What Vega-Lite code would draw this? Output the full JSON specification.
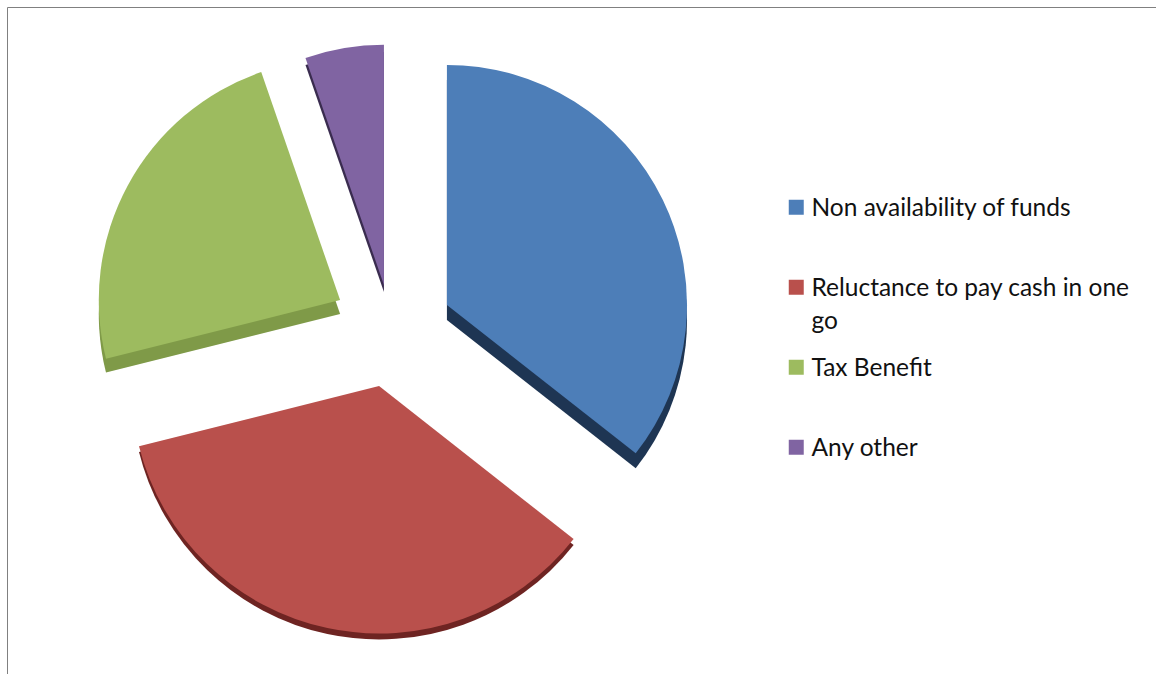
{
  "$schema": "https://vega.github.io/schema/vega-lite/v6.json",
  "width": 1149,
  "height": 667,
  "autosize": "none",
  "padding": {"left": 7, "top": 7, "right": 0, "bottom": 0},
  "background": "white",
  "view": {"stroke": "#808080", "strokeWidth": 1},
  "data": {"values": [
    {"reason": "Non availability of funds", "share": 35.6, "rank": 1, "reach": 0.98, "pull_x": 26.5, "pull_y": 10.2, "base_y": 4.1},
    {"reason": "Reluctance to pay cash in one go", "share": 35.5, "rank": 2, "reach": 1.01, "pull_x": -1.2, "pull_y": -22.9, "base_y": -25.3},
    {"reason": "Tax Benefit", "share": 23.6, "rank": 3, "reach": 0.985, "pull_x": -17.1, "pull_y": 12.2, "base_y": 6.5},
    {"reason": "Any other", "share": 5.3, "rank": 4, "reach": 0.98, "pull_x": 0.8, "pull_y": 18.4, "base_y": 15.5}
  ]},
  "transform": [
    {"stack": "share", "as": ["share_from", "share_to"], "sort": [{"field": "rank", "order": "ascending"}]}
  ],
  "encoding": {
    "theta": {"field": "share_from", "type": "quantitative", "stack": null, "scale": {"domain": [0, 100], "range": [0, 6.2832]}},
    "theta2": {"field": "share_to"},
    "radius": {"field": "reach", "type": "quantitative", "scale": {"type": "linear", "domain": [0, 1], "range": [0, 245]}},
    "x": {"field": "pull_x", "type": "quantitative", "axis": null, "scale": {"domain": [-153.06, 315.92], "nice": false, "zero": false}}
  },
  "layer": [
    {
      "mark": {"type": "arc"},
      "encoding": {
        "y": {"field": "base_y", "type": "quantitative", "axis": null, "scale": {"domain": [-140.41, 131.84], "nice": false, "zero": false}},
        "fill": {"field": "reason", "type": "nominal", "legend": null,
          "scale": {"domain": ["Any other", "Tax Benefit", "Reluctance to pay cash in one go", "Non availability of funds"], "range": ["#3a2c4f", "#7f9a48", "#6e2422", "#1e3553"]}}
      }
    },
    {
      "mark": {"type": "arc"},
      "encoding": {
        "y": {"field": "pull_y", "type": "quantitative", "axis": null, "scale": {"domain": [-140.41, 131.84], "nice": false, "zero": false}},
        "color": {"field": "reason", "type": "nominal",
          "scale": {"domain": ["Non availability of funds", "Reluctance to pay cash in one go", "Tax Benefit", "Any other"], "range": ["#4d7eb8", "#b9504c", "#9dbb5f", "#8064a2"]},
          "legend": {
            "orient": "none", "legendX": 777, "legendY": 188, "title": null,
            "symbolType": "square", "symbolSize": 225, "symbolStrokeWidth": 0,
            "labelFont": "Lato", "labelFontSize": 24.5, "labelColor": "#111111", "labelLimit": 400, "labelOffset": 3,
            "labelBaseline": "top",
            "gridAlign": "all", "rowPadding": 21,
            "labelExpr": "datum.label === 'Reluctance to pay cash in one go' ? ['Reluctance to pay cash in one', 'go'] : datum.label",
            "encode": {"labels": {"update": {"lineHeight": {"value": 33}, "dy": {"value": -10}}}}
          }
        }
      }
    }
  ]
}
